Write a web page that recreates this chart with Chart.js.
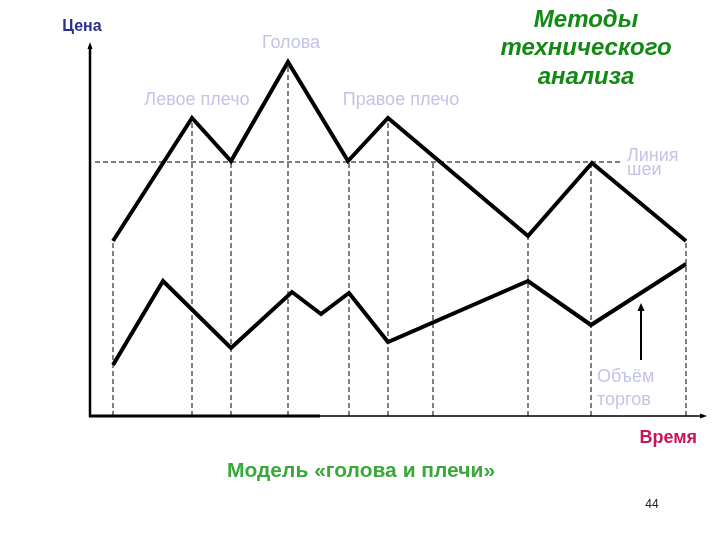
<!DOCTYPE html>
<html>
<head>
<meta charset="utf-8">
<script src="https://cdn.jsdelivr.net/npm/chart.js@4.4.0/dist/chart.umd.min.js"></script>
<style>
  html, body { margin: 0; padding: 0; background: #fff; }
  canvas { display: block; }
</style>
</head>
<body>
<canvas id="hsChart" width="720" height="540"></canvas>
<script>
// Head and shoulders pattern: price on top, trading volume below

const priceTime = [23, 102, 141, 198, 258, 298, 438, 502, 596];
const priceValue = [175, 298, 255, 354, 255, 298, 180, 253, 175];

const volumeTime = [23, 73, 141, 202, 231, 259, 298, 438, 501, 596];
const volumeValue = [51, 135, 68, 124, 102, 123, 74, 135, 91, 152];

const neckTime = [5, 530];
const neckValue = 254;

const guideTime = [23, 102, 141, 198, 259, 298, 343, 438, 501, 596];
const guideTop = [175, 298, 255, 354, 255, 298, 254, 180, 253, 175];

const arrowTime = 551;
const arrowFrom = 56;
const arrowTo = 111;

const timeMax = 613;
const valueMax = 370;

const toPoints = (xs, ys) => xs.map((x, i) => ({ x: x, y: ys[i] }));

// vertical dashed guides, separated by gaps
const guidePoints = [];
guideTime.forEach((t, i) => {
    guidePoints.push({ x: t, y: 0 }, { x: t, y: guideTop[i] }, { x: t, y: null });
});

const labels = {
    id: 'labels',
    afterDraw(chart) {
        const ctx = chart.ctx;
        const x = chart.scales.x;
        const y = chart.scales.y;
        const x0 = x.getPixelForValue(0);
        const y0 = y.getPixelForValue(0);
        const yTop = y.getPixelForValue(valueMax);
        const xEnd = x.getPixelForValue(timeMax);

        ctx.save();
        ctx.strokeStyle = '#000';
        ctx.fillStyle = '#000';

        // y axis with arrow
        ctx.lineWidth = 2.5;
        ctx.beginPath();
        ctx.moveTo(x0, y0 + 1);
        ctx.lineTo(x0, yTop);
        ctx.stroke();
        ctx.beginPath();
        ctx.moveTo(x0, yTop - 4);
        ctx.lineTo(x0 - 2.5, yTop + 3);
        ctx.lineTo(x0 + 2.5, yTop + 3);
        ctx.closePath();
        ctx.fill();

        // x axis, thick part then thin part
        ctx.lineWidth = 3;
        ctx.beginPath();
        ctx.moveTo(x0 - 1, y0);
        ctx.lineTo(x.getPixelForValue(230), y0);
        ctx.stroke();
        ctx.lineWidth = 1.5;
        ctx.beginPath();
        ctx.moveTo(x.getPixelForValue(230), y0);
        ctx.lineTo(xEnd, y0);
        ctx.stroke();
        ctx.beginPath();
        ctx.moveTo(xEnd + 4, y0);
        ctx.lineTo(xEnd - 3, y0 - 2.5);
        ctx.lineTo(xEnd - 3, y0 + 2.5);
        ctx.closePath();
        ctx.fill();

        // volume pointer arrow
        const ax = x.getPixelForValue(arrowTime);
        const ay1 = y.getPixelForValue(arrowFrom);
        const ay2 = y.getPixelForValue(arrowTo);
        ctx.lineWidth = 2;
        ctx.beginPath();
        ctx.moveTo(ax, ay1);
        ctx.lineTo(ax, ay2 + 4);
        ctx.stroke();
        ctx.beginPath();
        ctx.moveTo(ax, ay2 - 2);
        ctx.lineTo(ax - 3.5, ay2 + 6);
        ctx.lineTo(ax + 3.5, ay2 + 6);
        ctx.closePath();
        ctx.fill();

        // texts
        ctx.textBaseline = 'middle';
        const text = (s, px, py, font, color, align) => {
            ctx.font = font;
            ctx.fillStyle = color;
            ctx.textAlign = align || 'center';
            ctx.fillText(s, px, py);
        };
        const pale = '#c4c4e6';
        const paleFont = '18px "Liberation Sans", Arial, sans-serif';
        text('Цена', 82, 27, 'bold 16px "Liberation Sans", Arial, sans-serif', '#2b2f86');
        text('Голова', 291, 43, paleFont, pale);
        text('Левое плечо', 197, 100, paleFont, pale);
        text('Правое плечо', 401, 100, paleFont, pale);
        text('Линия', 627, 156, paleFont, pale, 'left');
        text('шеи', 627, 170, paleFont, pale, 'left');
        text('Объём', 597, 377, paleFont, pale, 'left');
        text('торгов', 597, 400, paleFont, pale, 'left');

        const titleFont = 'italic bold 24px "Liberation Sans", Arial, sans-serif';
        text('Методы', 586, 20, titleFont, '#138a13');
        text('технического', 586, 48, titleFont, '#138a13');
        text('анализа', 586, 77, titleFont, '#138a13');

        text('Время', 697, 438, 'bold 18px "Liberation Sans", Arial, sans-serif', '#c8145a', 'right');
        text('Модель «голова и плечи»', 227, 471, 'bold 21px "Liberation Sans", Arial, sans-serif', '#3aa83a', 'left');
        text('44', 652, 505, '12px "Liberation Sans", Arial, sans-serif', '#222');
        ctx.restore();
    }
};

new Chart(document.getElementById('hsChart').getContext('2d'), {
    type: 'line',
    data: {
        datasets: [
            {
                data: guidePoints,
                borderColor: '#000',
                borderWidth: 1,
                borderDash: [5, 3],
                pointRadius: 0,
                spanGaps: false
            },
            {
                data: toPoints(neckTime, [neckValue, neckValue]),
                borderColor: '#000',
                borderWidth: 1,
                borderDash: [5, 3],
                pointRadius: 0
            },
            {
                data: toPoints(priceTime, priceValue),
                borderColor: '#000',
                borderWidth: 4,
                borderJoinStyle: 'miter',
                pointRadius: 0,
                tension: 0
            },
            {
                data: toPoints(volumeTime, volumeValue),
                borderColor: '#000',
                borderWidth: 4,
                borderJoinStyle: 'miter',
                pointRadius: 0,
                tension: 0
            }
        ]
    },
    options: {
        responsive: false,
        animation: false,
        devicePixelRatio: 1,
        layout: {
            padding: { left: 90, right: 17, top: 46, bottom: 124 }
        },
        scales: {
            x: { type: 'linear', min: 0, max: timeMax, display: false },
            y: { type: 'linear', min: 0, max: valueMax, display: false }
        },
        plugins: {
            legend: { display: false },
            tooltip: { enabled: false }
        }
    },
    plugins: [labels]
});
</script>
</body>
</html>
